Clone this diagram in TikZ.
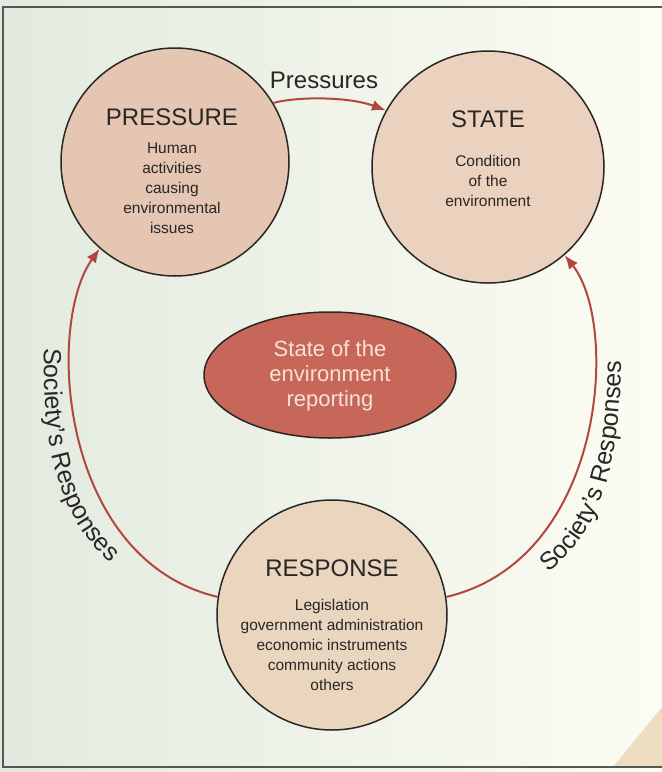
\documentclass[tikz,border=0pt]{standalone}
\usepackage{fontspec}
\setmainfont{Liberation Sans}
\usetikzlibrary{arrows.meta,decorations.text,shapes.geometric}
\definecolor{bgL}{HTML}{E2EADF}
\definecolor{bgR}{HTML}{FCFCF3}
\definecolor{frameC}{HTML}{4F5B52}
\definecolor{presFill}{HTML}{E5C6B3}
\definecolor{stateFill}{HTML}{EAD2BE}
\definecolor{respFill}{HTML}{EAD5BF}
\definecolor{ellFill}{HTML}{C7675A}
\definecolor{ellText}{HTML}{F8E2D4}
\definecolor{arrowC}{HTML}{B5463F}
\definecolor{inkC}{HTML}{2A2624}
\definecolor{foldC}{HTML}{EFDDC2}
\newcommand\socfont{\fontsize{25}{29}\selectfont}
\begin{document}
\begin{tikzpicture}[x=1pt,y=-1pt,
  bubble/.style={circle,draw=inkC,line width=1.5pt,inner sep=0pt},
  title/.style={font=\fontsize{24}{28}\selectfont,text=inkC},
  body/.style={font=\fontsize{15.5}{20}\selectfont,text=inkC,align=center},
  flow/.style={draw=arrowC,line width=2pt,-{Latex[length=14pt,width=11pt]}}]
\useasboundingbox (0,0) rectangle (662,772);
\shade[left color=bgL,right color=bgR] (0,0) rectangle (662,772);
\fill[foldC] (662,707) -- (613,767) -- (662,767) -- cycle;
\draw[frameC,line width=1.6pt] (662,7) -- (3,7) -- (3,767) -- (662,767);

% bubbles
\node[bubble,fill=presFill,minimum size=228pt] (pres) at (175,162) {};
\node[bubble,fill=stateFill,minimum size=232pt] (state) at (488,167) {};
\node[bubble,fill=respFill,minimum size=230pt] (resp) at (332,615) {};
\node[ellipse,draw=inkC,line width=1.5pt,fill=ellFill,minimum width=252pt,minimum height=126pt,inner sep=0pt] (sor) at (330,375) {};

% texts
\node[title] (presT) at (172,117) {PRESSURE};
\node[body] (presB) at (172,188) {Human\\activities\\causing\\environmental\\issues};
\node[title] (stateT) at (488,119) {STATE};
\node[body] (stateB) at (488,181) {Condition\\of the\\environment};
\node[title] (respT) at (332,568) {RESPONSE};
\node[body] (respB) at (332,645) {Legislation\\government administration\\economic instruments\\community actions\\others};
\node[font=\fontsize{22}{25}\selectfont,text=ellText,align=center] (sorT) at (330,376) {State of the\\environment\\reporting};
\node[font=\fontsize{24}{28}\selectfont,text=inkC] (presLbl) at (324,80) {Pressures};

% connectors
\draw[flow] (pres.31) .. controls (300,96) and (350,97) .. (state.151);
\draw[flow] (resp.171) .. controls (60,560) and (45,325) .. (pres.229);
\draw[flow] (resp.9) .. controls (605,560) and (620,325) .. (state.311);

% curved labels
\path[decorate,decoration={text along path,text={|\socfont\color{inkC}|Society's Responses},text align=left}]
  (44,348) .. controls (41,470) and (70,540) .. (132,578);
\path[decorate,decoration={text along path,text={|\socfont\color{inkC}|Society's Responses},text align=left}]
  (548,572) .. controls (598,535) and (624,470) .. (621,330);
\end{tikzpicture}
\end{document}
